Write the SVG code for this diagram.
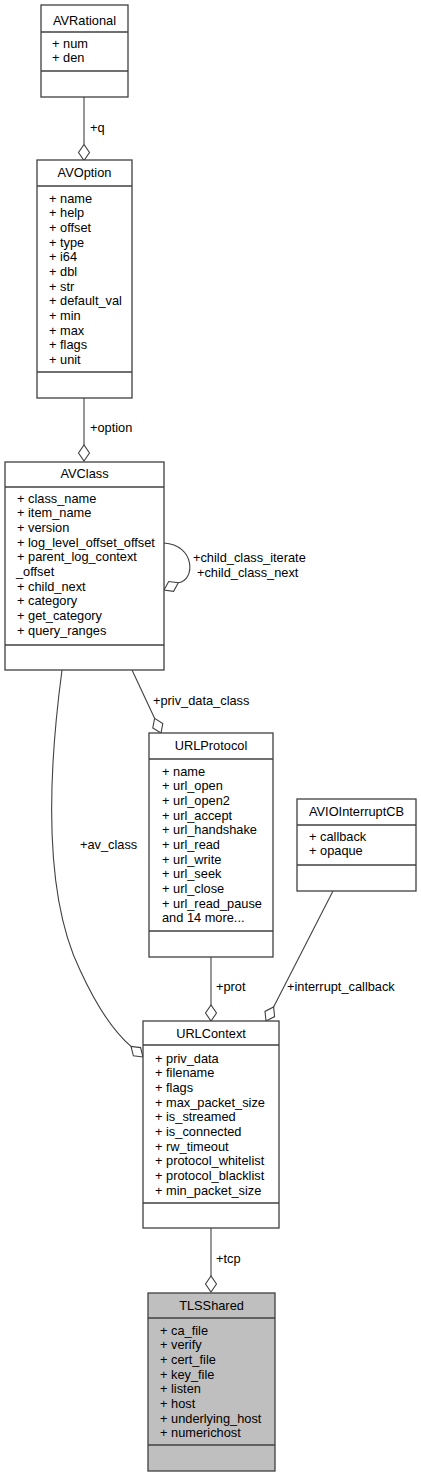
<svg xmlns="http://www.w3.org/2000/svg" width="421" height="1477" viewBox="0 0 421 1477">
<style>
text{font-family:"Liberation Sans",Arial,sans-serif;font-size:12.8px;fill:#000}
.t{text-anchor:middle}
.box{fill:#fff;stroke:#404040;stroke-width:1.3}
.cur{fill:#bfbfbf}
.sep{stroke:#404040;stroke-width:1.3}
.edge{fill:none;stroke:#404040;stroke-width:1.1}
.dia{fill:#fff;stroke:#404040;stroke-width:1.1}
</style>
<rect width="421" height="1477" fill="#fff"/>
<g id="connectors">
<path class="edge" d="M84,97 L84,144.5"/>
<polygon class="dia" points="84,160.5 89.5,152.5 84,144.5 78.5,152.5"/>
<text x="90" y="132">+q</text>
<path class="edge" d="M84,398 L84,445"/>
<polygon class="dia" points="84,461 89.5,453 84,445 78.5,453"/>
<text x="90" y="432">+option</text>
<path class="edge" d="M164,543 C195,545 196,580 178.3,582.8"/>
<polygon class="dia" points="164,590 168.7,581.5 178.3,582.8 173.6,591.3"/>
<text x="193" y="562">+child_class_iterate</text>
<text x="197" y="577">+child_class_next</text>
<path class="edge" d="M132,670 L154.6,718.3"/>
<polygon class="dia" points="161,733 152.8,727.9 154.6,718.3 162.8,723.5"/>
<text x="153" y="705">+priv_data_class</text>
<path class="edge" d="M62,670 C46,790 46,900 80,970 C96,1005 112,1030 131,1046.4"/>
<polygon class="dia" points="143,1057 133.4,1055.8 131,1046.4 140.6,1047.6"/>
<text x="80" y="849">+av_class</text>
<path class="edge" d="M211,957 L211,1005"/>
<polygon class="dia" points="211,1021 216.5,1013 211,1005 205.5,1013"/>
<text x="216" y="991">+prot</text>
<path class="edge" d="M333,891 L273.6,1006.9"/>
<polygon class="dia" points="266,1021 265,1011.4 273.6,1006.9 274.6,1016.6"/>
<text x="287" y="991">+interrupt_callback</text>
<path class="edge" d="M211,1228 L211,1276"/>
<polygon class="dia" points="211,1292 216.5,1284 211,1276 205.5,1284"/>
<text x="216" y="1263">+tcp</text>
</g>
<g id="AVRational">
<rect class="box" x="41" y="5" width="87" height="92"/>
<line class="sep" x1="41" y1="32" x2="128" y2="32"/>
<line class="sep" x1="41" y1="71" x2="128" y2="71"/>
<text class="t" x="84.5" y="25">AVRational</text>
<text x="52" y="47.5">+ num</text>
<text x="52" y="62">+ den</text>
</g>
<g id="AVOption">
<rect class="box" x="37" y="160" width="95" height="238"/>
<line class="sep" x1="37" y1="186" x2="132" y2="186"/>
<line class="sep" x1="37" y1="372" x2="132" y2="372"/>
<text class="t" x="84.5" y="177">AVOption</text>
<text x="49" y="202.5">+ name</text>
<text x="49" y="217.2">+ help</text>
<text x="49" y="231.8">+ offset</text>
<text x="49" y="246.5">+ type</text>
<text x="49" y="261.2">+ i64</text>
<text x="49" y="275.8">+ dbl</text>
<text x="49" y="290.5">+ str</text>
<text x="49" y="305.2">+ default_val</text>
<text x="49" y="319.9">+ min</text>
<text x="49" y="334.5">+ max</text>
<text x="49" y="349.2">+ flags</text>
<text x="49" y="363.9">+ unit</text>
</g>
<g id="AVClass">
<rect class="box" x="5" y="462" width="159" height="208"/>
<line class="sep" x1="5" y1="487" x2="164" y2="487"/>
<line class="sep" x1="5" y1="645" x2="164" y2="645"/>
<text class="t" x="84.5" y="478">AVClass</text>
<text x="17" y="502.5">+ class_name</text>
<text x="17" y="517.2">+ item_name</text>
<text x="17" y="531.8">+ version</text>
<text x="17" y="546.5">+ log_level_offset_offset</text>
<text x="17" y="561.2">+ parent_log_context</text>
<text x="16" y="575.8">_offset</text>
<text x="17" y="590.5">+ child_next</text>
<text x="17" y="605.2">+ category</text>
<text x="17" y="619.9">+ get_category</text>
<text x="17" y="634.5">+ query_ranges</text>
</g>
<g id="URLProtocol">
<rect class="box" x="149" y="733" width="124" height="224"/>
<line class="sep" x1="149" y1="759" x2="273" y2="759"/>
<line class="sep" x1="149" y1="931" x2="273" y2="931"/>
<text class="t" x="211" y="750">URLProtocol</text>
<text x="162" y="775.5">+ name</text>
<text x="162" y="790.2">+ url_open</text>
<text x="162" y="804.8">+ url_open2</text>
<text x="162" y="819.5">+ url_accept</text>
<text x="162" y="834.2">+ url_handshake</text>
<text x="162" y="848.8">+ url_read</text>
<text x="162" y="863.5">+ url_write</text>
<text x="162" y="878.2">+ url_seek</text>
<text x="162" y="892.9">+ url_close</text>
<text x="162" y="907.5">+ url_read_pause</text>
<text x="162" y="922.2">and 14 more...</text>
</g>
<g id="AVIOInterruptCB">
<rect class="box" x="297" y="799" width="119" height="92"/>
<line class="sep" x1="297" y1="825" x2="416" y2="825"/>
<line class="sep" x1="297" y1="865" x2="416" y2="865"/>
<text class="t" x="356.5" y="816">AVIOInterruptCB</text>
<text x="309" y="840.5">+ callback</text>
<text x="309" y="855">+ opaque</text>
</g>
<g id="URLContext">
<rect class="box" x="143" y="1021" width="136" height="207"/>
<line class="sep" x1="143" y1="1045" x2="279" y2="1045"/>
<line class="sep" x1="143" y1="1203" x2="279" y2="1203"/>
<text class="t" x="211" y="1038">URLContext</text>
<text x="155" y="1062.5">+ priv_data</text>
<text x="155" y="1077.2">+ filename</text>
<text x="155" y="1091.8">+ flags</text>
<text x="155" y="1106.5">+ max_packet_size</text>
<text x="155" y="1121.2">+ is_streamed</text>
<text x="155" y="1135.8">+ is_connected</text>
<text x="155" y="1150.5">+ rw_timeout</text>
<text x="155" y="1165.2">+ protocol_whitelist</text>
<text x="155" y="1179.9">+ protocol_blacklist</text>
<text x="155" y="1194.5">+ min_packet_size</text>
</g>
<g id="TLSShared">
<rect class="box cur" x="148" y="1293" width="127" height="178"/>
<line class="sep" x1="148" y1="1318" x2="275" y2="1318"/>
<line class="sep" x1="148" y1="1445" x2="275" y2="1445"/>
<text class="t" x="211.5" y="1310">TLSShared</text>
<text x="160" y="1334.5">+ ca_file</text>
<text x="160" y="1349.2">+ verify</text>
<text x="160" y="1363.8">+ cert_file</text>
<text x="160" y="1378.5">+ key_file</text>
<text x="160" y="1393.2">+ listen</text>
<text x="160" y="1407.8">+ host</text>
<text x="160" y="1422.5">+ underlying_host</text>
<text x="160" y="1437.2">+ numerichost</text>
</g>
</svg>
